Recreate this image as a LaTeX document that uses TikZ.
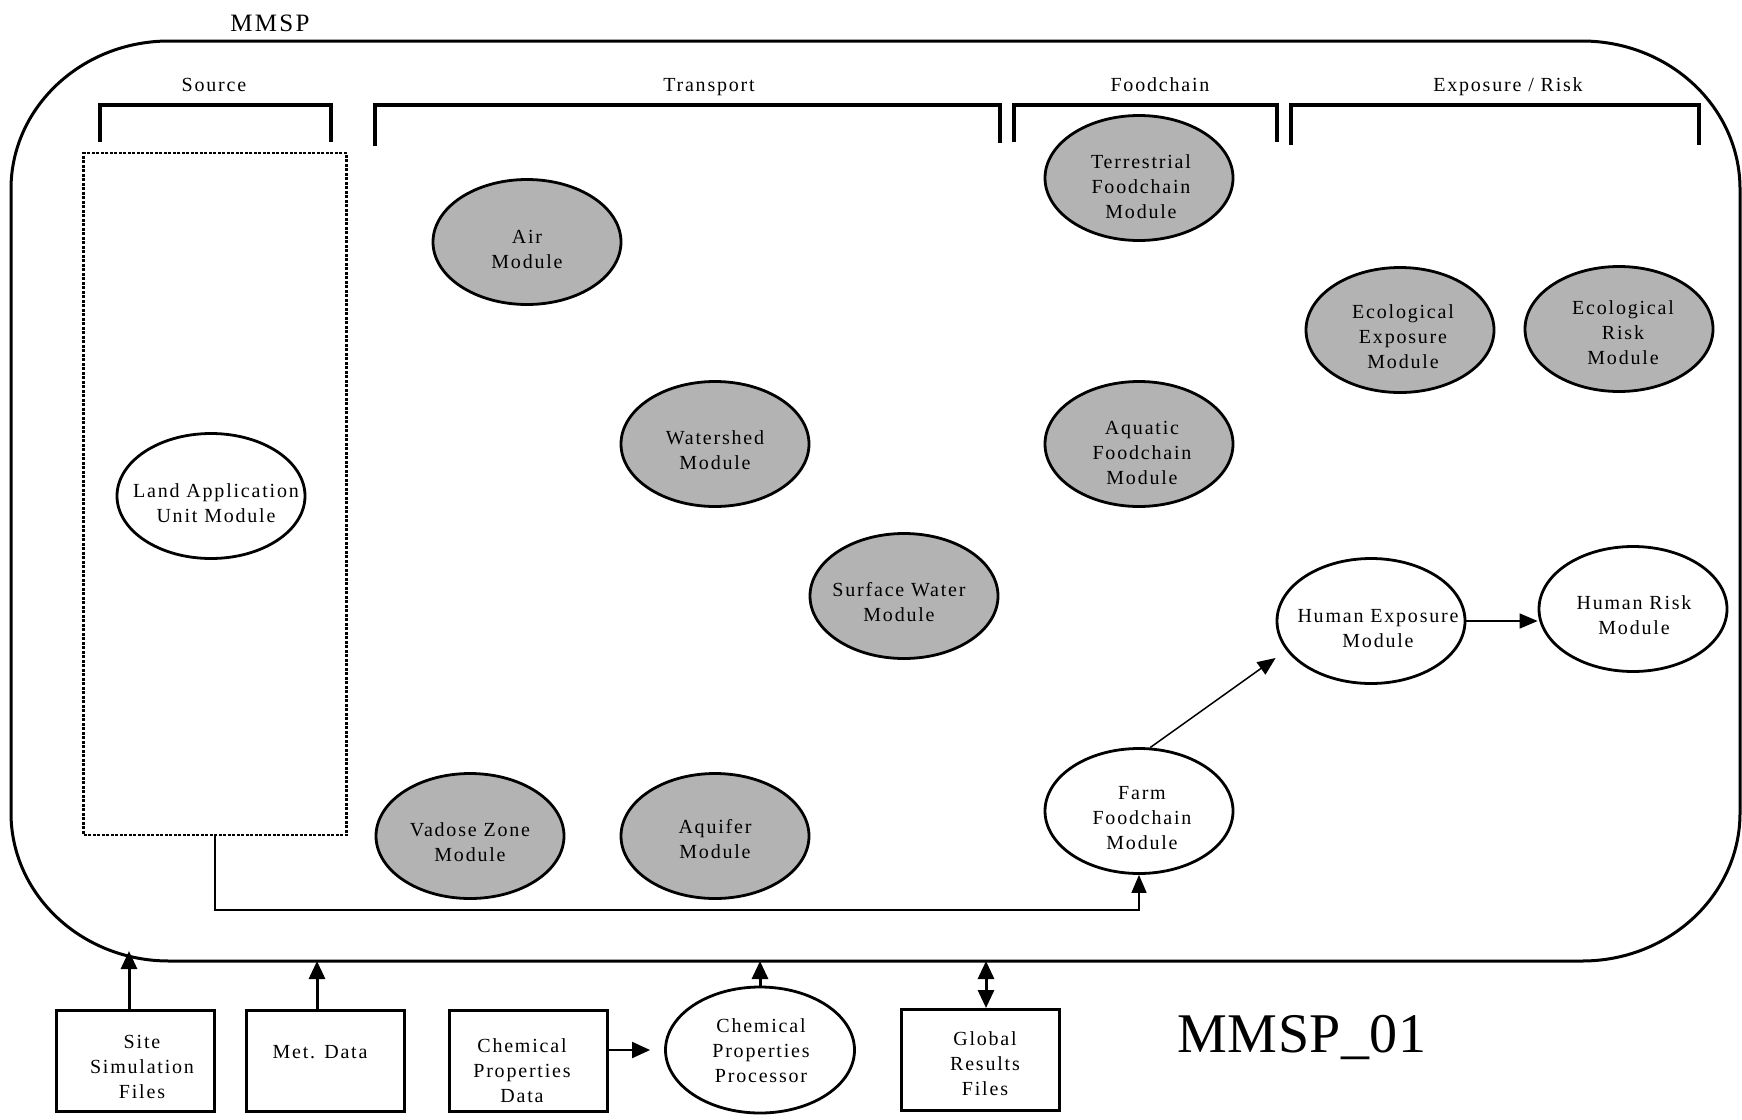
\documentclass[tikz,border=0pt]{standalone}
\usepackage{fontspec}
\setmainfont{Liberation Serif}[LetterSpace=9]
\newfontfamily\labelfont{Liberation Serif}[LetterSpace=1]
\usetikzlibrary{shapes.geometric,arrows.meta}
\definecolor{modgray}{RGB}{179,179,179}
\tikzset{
  txt/.style={font=\fontsize{20}{25}\selectfont, align=center, inner sep=0pt},
  head/.style={txt, anchor=base},
  module/.style={ellipse, draw, line width=2.8pt, minimum width=188pt, minimum height=125pt, inner sep=0pt},
  gmod/.style={module, fill=modgray},
  wmod/.style={module, fill=white},
  databox/.style={rectangle, draw, line width=3pt, minimum width=158pt, minimum height=101pt, inner sep=0pt},
  bracketline/.style={line width=3.5pt},
  framepath/.style={line width=3pt},
  flow/.style={line width=1.5pt, -{Triangle[length=18pt,width=15pt]}},
  feed/.style={line width=3pt, -{Triangle[length=18pt,width=16pt]}},
  feedboth/.style={line width=3pt, {Triangle[length=18pt,width=16pt]}-{Triangle[length=18pt,width=16pt]}}
}
\begin{document}
\begin{tikzpicture}[x=1pt,y=-1pt]
\useasboundingbox (0,0) rectangle (1742,1119);
\fill[white] (0,0) rectangle (1742,1119);

% outer system boundary with elliptical corners
\draw[framepath] (169,41) -- (1582,41)
  arc[start angle=-90, end angle=0, x radius=158, y radius=148]
  -- (1740,813)
  arc[start angle=0, end angle=90, x radius=158, y radius=148]
  -- (169,961)
  arc[start angle=90, end angle=180, x radius=158, y radius=148]
  -- (11,189)
  arc[start angle=180, end angle=270, x radius=158, y radius=148];
\node[txt, font=\fontsize{25}{30}\selectfont] (title) at (270,23) {MMSP};

% section brackets
\draw[bracketline] (100,142) -- (100,105) -- (331,105) -- (331,142);
\draw[bracketline] (375,146) -- (375,105) -- (1000,105) -- (1000,143);
\draw[bracketline] (1014,142) -- (1014,105) -- (1277,105) -- (1277,142);
\draw[bracketline] (1291,145) -- (1291,105) -- (1699,105) -- (1699,145);
\node[head] (hsource) at (214,91) {Source};
\node[head] (htransport) at (709,91) {Transport};
\node[head] (hfood) at (1160,91) {Foodchain};
\node[head] (hexp) at (1508,91) {Exposure / Risk};

% source area
\node[draw, line width=2.4pt, dash pattern=on 3pt off 1.5pt, minimum width=263pt, minimum height=682pt, inner sep=0pt] (dbox) at (215,494) {};
\node[wmod] (lau) at (211,496) {};
\node[txt] (lau-t) at (216,503) {Land Application\\Unit Module};

% transport modules
\node[gmod] (air) at (527,242) {};
\node[txt] (air-t) at (527,249) {Air\\Module};
\node[gmod] (wshed) at (715,444) {};
\node[txt] (wshed-t) at (715,450) {Watershed\\Module};
\node[gmod] (swater) at (904,596) {};
\node[txt] (swater-t) at (899,602) {Surface Water\\Module};
\node[gmod] (vadose) at (470,836) {};
\node[txt] (vadose-t) at (470,842) {Vadose Zone\\Module};
\node[gmod] (aquifer) at (715,836) {};
\node[txt] (aquifer-t) at (715,839) {Aquifer\\Module};

% foodchain modules
\node[gmod] (terr) at (1139,178) {};
\node[txt] (terr-t) at (1141,187) {Terrestrial\\Foodchain\\Module};
\node[gmod] (aquatic) at (1139,444) {};
\node[txt] (aquatic-t) at (1142,453) {Aquatic\\Foodchain\\Module};
\node[wmod] (farm) at (1139,811) {};
\node[txt] (farm-t) at (1142,818) {Farm\\Foodchain\\Module};

% exposure and risk modules
\node[gmod] (ecoexp) at (1400,330) {};
\node[txt] (ecoexp-t) at (1403,337) {Ecological\\Exposure\\Module};
\node[gmod] (ecorisk) at (1619,329) {};
\node[txt] (ecorisk-t) at (1623,333) {Ecological\\Risk\\Module};
\node[wmod] (hexpo) at (1371,621) {};
\node[txt] (hexpo-t) at (1378,629) {Human Exposure\\Module};
\node[wmod] (hrisk) at (1633,609) {};
\node[txt] (hrisk-t) at (1634,615) {Human Risk\\Module};

% internal connections
\draw[flow] (dbox.south) -- (dbox.south |- 0,910) -| (farm.south);
\draw[flow] (farm.80) -- ([yshift=-37pt]hexpo.west);
\draw[flow] (hexpo.east) -- (hexpo.east -| hrisk.west);

% external inputs
\node[databox] (site) at (135,1061) {};
\node[txt] (site-t) at (142,1067) {Site\\Simulation\\Files};
\node[databox] (met) at (325,1061) {};
\node[txt] (met-t) at (320,1052) {Met. Data};
\node[databox] (chemdata) at (528,1061) {};
\node[txt] (chemdata-t) at (522,1071) {Chemical\\Properties\\Data};
\node[wmod, minimum width=189pt, minimum height=126pt] (proc) at (760,1050) {};
\node[txt] (proc-t) at (761,1051) {Chemical\\Properties\\Processor};
\node[databox] (glob) at (980,1060) {};
\node[txt] (glob-t) at (985,1064) {Global\\Results\\Files};
\node[txt, font=\labelfont\fontsize{56}{60}\selectfont] (tag) at (1302,1037) {MMSP\_01};

\coordinate (fsite) at (129,951);
\coordinate (fmet) at (317,961);
\coordinate (fproc) at (760,961);
\coordinate (fglob) at (986,961);

\draw[feed] ([xshift=-6pt]site.north) -- (fsite);
\draw[feed] ([xshift=-8pt]met.north) -- (fmet);
\draw[feed] (proc.north) -- (fproc);
\draw[feedboth] ([xshift=6pt]glob.north) -- (fglob);
\draw[feed, line width=2pt, shorten >=14pt] (chemdata.east |- proc.west) -- (proc.west);
\end{tikzpicture}
\end{document}
